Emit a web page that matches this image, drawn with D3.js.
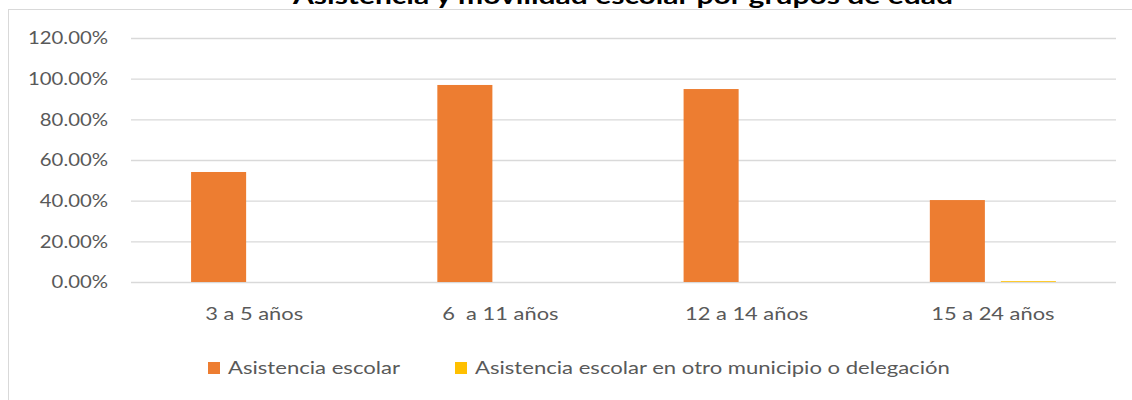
<!DOCTYPE html>
<html><head><meta charset="utf-8">
<script src="https://cdn.jsdelivr.net/npm/d3@7"></script>
<style>body{margin:0;background:#fff}svg{display:block}</style>
</head><body>
<svg id="c" width="1132" height="400"></svg>
<script>
const categories = ["3 a 5 años", "6  a 11 años", "12 a 14 años", "15 a 24 años"];
const seriesNames = ["Asistencia escolar", "Asistencia escolar en otro municipio o delegación"];
const asistencia = [0.541, 0.969, 0.949, 0.403];
const otroMunicipio = [0, 0, 0, 0.004];
const yTicks = [0, 0.2, 0.4, 0.6, 0.8, 1.0, 1.2];
const colors = ["#ED7D31", "#FFC000"];
const title = "Asistencia y movilidad escolar por grupos de edad";

(function () {
const values = [asistencia, otroMunicipio];
const svg = d3.select("#c");
const font = "Lato, 'Open Sans', sans-serif";
const pLeft = 131, pRight = 1116, pTop = 38, pBottom = 282;

// stretch a text selection horizontally so that a reference text gets a target width
function stretch(sel, refWidth, refIndex) {
  const nodes = sel.nodes();
  const f = refWidth / nodes[refIndex || 0].getComputedTextLength();
  nodes.forEach(n => {
    const w = n.getComputedTextLength();
    n.setAttribute("textLength", (w * f).toFixed(1));
    n.setAttribute("lengthAdjust", "spacingAndGlyphs");
  });
}

// chart border
svg.append("rect").attr("x", 8.5).attr("y", 9.5).attr("width", 1140).attr("height", 400)
  .attr("fill", "none").attr("stroke", "#d9d9d9").attr("stroke-width", 1);

const y = d3.scaleLinear().domain([0, 1.2]).range([pBottom, pTop]);
const x0 = d3.scaleBand().domain(categories).range([pLeft, pRight]).paddingInner(0.488).paddingOuter(0.244);
const x1 = d3.scaleBand().domain(d3.range(seriesNames.length)).range([0, x0.bandwidth()]).paddingInner(0.225);

// gridlines
const yAxis = d3.axisLeft(y).tickValues(yTicks).tickSize(-(pRight - pLeft)).tickFormat(d => (d * 100).toFixed(2) + "%").tickPadding(23);
const gy = svg.append("g").attr("transform", `translate(${pLeft},0)`).call(yAxis);
gy.select(".domain").remove();
gy.selectAll(".tick line").attr("stroke", "#d9d9d9").attr("stroke-width", 1.3);
const yt = gy.selectAll(".tick text").attr("fill", "#595959").attr("font-family", font).attr("font-size", 18);
stretch(yt, 80, yTicks.length - 1);

// bars
const groups = svg.append("g").selectAll("g").data(categories).join("g")
  .attr("transform", d => `translate(${x0(d)},0)`);
groups.selectAll("rect").data((d, i) => values.map((s, k) => ({k, v: s[i]}))).join("rect")
  .attr("x", d => x1(d.k)).attr("width", x1.bandwidth())
  .attr("y", d => y(d.v)).attr("height", d => y(0) - y(d.v))
  .attr("fill", d => colors[d.k]);

// x axis labels
const xAxis = d3.axisBottom(x0).tickSize(0).tickPadding(25);
const gx = svg.append("g").attr("transform", `translate(0,${pBottom})`).call(xAxis);
gx.select(".domain").remove();
const xt = gx.selectAll(".tick text").attr("fill", "#595959").attr("font-family", font).attr("font-size", 18).style("white-space", "pre").attr("xml:space", "preserve");
stretch(xt, 98, 0);

// title
const tt = svg.append("text").attr("x", 623).attr("y", 4).attr("text-anchor", "middle")
  .attr("font-family", font).attr("font-weight", "bold").attr("font-size", 22).attr("fill", "#000")
  .text(title);
stretch(tt, 660, 0);

// legend
const legendX = [208, 455];
const lg = svg.append("g").selectAll("g").data(seriesNames).join("g")
  .attr("transform", (d, i) => `translate(${legendX[i]},362)`);
lg.append("rect").attr("width", 12).attr("height", 12).attr("fill", (d, i) => colors[i]);
const lt = lg.append("text").attr("x", 20).attr("y", 12).attr("fill", "#595959").attr("font-family", font).attr("font-size", 18).text(d => d);
stretch(lt, 172, 0);
})();
</script>
</body></html>
